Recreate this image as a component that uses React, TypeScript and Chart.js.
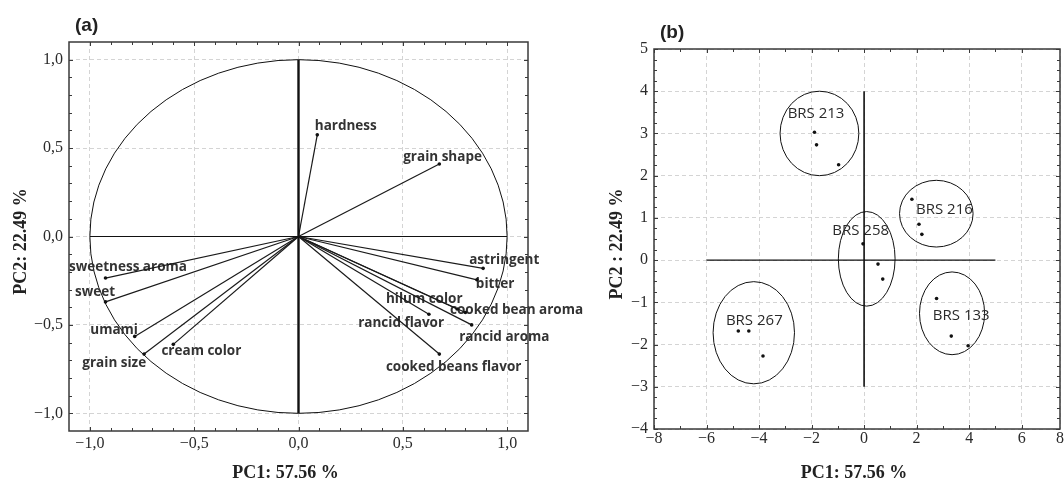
import { useEffect, useRef } from 'react';
import { Chart, registerables } from 'chart.js';

Chart.register(...registerables);

// ---------------- Panel (a): variable loadings ----------------
const variableNames = [
  'hardness', 'grain shape', 'astringent', 'bitter', 'hilum color', 'cooked bean aroma',
  'rancid flavor', 'rancid aroma', 'cooked beans flavor', 'sweetness aroma', 'sweet',
  'umami', 'grain size', 'cream color',
];
const loadingPC1 = [0.09, 0.675, 0.885, 0.855, 0.76, 0.8, 0.625, 0.83, 0.675, -0.925, -0.925, -0.785, -0.74, -0.6];
const loadingPC2 = [0.575, 0.41, -0.18, -0.245, -0.41, -0.43, -0.44, -0.5, -0.665, -0.235, -0.37, -0.565, -0.665, -0.61];
// where each variable's name is written (left edge, in PC units)
const variableLabelPC1 = [0.078, 0.502, 0.818, 0.85, 0.419, 0.726, 0.286, 0.77, 0.419, -1.1, -1.071, -0.998, -1.036, -0.657];
const variableLabelPC2 = [0.623, 0.449, -0.136, -0.272, -0.353, -0.419, -0.489, -0.567, -0.741, -0.174, -0.312, -0.527, -0.716, -0.646];

const loadingRange = [-1.1, 1.1];
const loadingTicks = [-1, -0.5, 0, 0.5, 1];
const loadingTickLabels = ['−1,0', '−0,5', '0,0', '0,5', '1,0'];
const loadingMinorTicks = [-0.9, -0.8, -0.7, -0.6, -0.4, -0.3, -0.2, -0.1, 0.1, 0.2, 0.3, 0.4, 0.6, 0.7, 0.8, 0.9];

// ---------------- Panel (b): sample scores ----------------
const cultivars = ['BRS 213', 'BRS 216', 'BRS 258', 'BRS 133', 'BRS 267'];
const scorePC1 = [-1.89, -1.81, -0.97, 1.82, 2.09, 2.2, -0.04, 0.53, 0.71, 2.76, 3.32, 3.96, -4.79, -4.39, -3.85];
const scorePC2 = [3.03, 2.73, 2.26, 1.44, 0.85, 0.61, 0.385, -0.095, -0.45, -0.91, -1.8, -2.03, -1.68, -1.68, -2.27];
const ellipseCenterPC1 = [-1.7, 2.75, 0.1, 3.35, -4.2];
const ellipseCenterPC2 = [3.0, 1.1, 0.03, -1.26, -1.72];
const ellipseRadiusPC1 = [1.5, 1.4, 1.08, 1.24, 1.55];
const ellipseRadiusPC2 = [1.0, 0.79, 1.12, 0.98, 1.21];
const cultivarLabelPC1 = [-1.83, 3.06, -0.13, 3.7, -4.18];
const cultivarLabelPC2 = [3.47, 1.2, 0.69, -1.32, -1.43];

const scoreRangeX = [-8, 7.46]; // the frame is cut at the right-hand side
const scoreRangeY = [-4, 5];
const scoreTicksX = [-8, -6, -4, -2, 0, 2, 4, 6, 8];
const scoreTickLabelsX = ['−8', '−6', '−4', '−2', '0', '2', '4', '6', '8'];
const scoreTicksY = [-4, -3, -2, -1, 0, 1, 2, 3, 4, 5];
const scoreTickLabelsY = ['−4', '−3', '−2', '−1', '0', '1', '2', '3', '4', '5'];
const scoreMinorX = [-7, -5, -3, -1, 1, 3, 5];
const scoreMinorY = [
  -3.75, -3.5, -3.25, -2.75, -2.5, -2.25, -1.75, -1.5, -1.25, -0.75, -0.5, -0.25,
  0.25, 0.5, 0.75, 1.25, 1.5, 1.75, 2.25, 2.5, 2.75, 3.25, 3.5, 3.75, 4.25, 4.5, 4.75,
];
const crossH = [[-6, 0], [5, 0]];
const crossV = [[0, 4], [0, -3]];

const TICK_FONT = { family: '"Liberation Serif", "Times New Roman", serif', size: 16 };
const GRID_COLOR = '#d4d4d4';
const AXIS_COLOR = '#3a3a3a';

function framePlugin(majorX: number[], majorY: number[], minorX: number[], minorY: number[]) {
  return {
    id: 'frame',
    afterDraw(chart: any) {
      const { ctx, chartArea: a, scales } = chart;
      const xs = scales.x;
      const ys = scales.y;
      ctx.save();
      ctx.strokeStyle = AXIS_COLOR;
      ctx.lineWidth = 1;
      ctx.beginPath();
      const xt = (vals: number[], len: number) => {
        vals.forEach((v) => {
          if (v < xs.min || v > xs.max) return;
          const px = Math.round(xs.getPixelForValue(v)) + 0.5;
          ctx.moveTo(px, a.top);
          ctx.lineTo(px, a.top + len);
          ctx.moveTo(px, a.bottom);
          ctx.lineTo(px, a.bottom - len);
        });
      };
      const yt = (vals: number[], len: number) => {
        vals.forEach((v) => {
          if (v < ys.min || v > ys.max) return;
          const py = Math.round(ys.getPixelForValue(v)) + 0.5;
          ctx.moveTo(a.left, py);
          ctx.lineTo(a.left + len, py);
          ctx.moveTo(a.right, py);
          ctx.lineTo(a.right - len, py);
        });
      };
      xt(majorX, 4);
      xt(minorX, 3);
      yt(majorY, 4);
      yt(minorY, 3);
      ctx.stroke();
      ctx.lineWidth = 1.5;
      ctx.strokeRect(a.left, a.top, a.right - a.left, a.bottom - a.top);
      ctx.restore();
    },
  };
}

function titlesPlugin(panel: string, xTitle: string, yTitle: string, xShift: number, yTitleX: number) {
  return {
    id: 'titles',
    afterDraw(chart: any) {
      const { ctx, chartArea: a, height } = chart;
      ctx.save();
      ctx.fillStyle = '#222';
      ctx.font = 'bold 19px "Liberation Sans", Arial, sans-serif';
      ctx.textAlign = 'left';
      ctx.textBaseline = 'middle';
      ctx.fillText(panel, a.left + 6, a.top - 16);
      ctx.font = 'bold 18px "Liberation Serif", "Times New Roman", serif';
      ctx.textAlign = 'center';
      ctx.fillText(xTitle, (a.left + a.right) / 2 + xShift, height - 10);
      ctx.translate(yTitleX, (a.top + a.bottom) / 2 + 5);
      ctx.rotate(-Math.PI / 2);
      ctx.fillText(yTitle, 0, 0);
      ctx.restore();
    },
  };
}

function scaleOptions(range: number[], ticks: number[], labels: string[], axis: 'x' | 'y', size: number, pad: number) {
  return {
    type: 'linear',
    min: range[0],
    max: range[1],
    afterBuildTicks: (s: any) => {
      s.ticks = ticks.map((v) => ({ value: Math.min(Math.max(v, s.min), s.max) }));
    },
    afterFit: (s: any) => {
      if (axis === 'x') {
        s.height = size;
        s.paddingLeft = 0;
        s.paddingRight = 0;
      } else {
        s.width = size;
        s.paddingTop = 0;
        s.paddingBottom = 0;
      }
    },
    ticks: {
      callback: (_v: any, i: number) => labels[i],
      font: TICK_FONT,
      color: '#2a2a2a',
      padding: pad,
      autoSkip: false,
      maxRotation: 0,
      minRotation: 0,
    },
    grid: { color: GRID_COLOR, lineWidth: 1, drawTicks: false },
    border: { display: false, dash: [4, 3] },
  };
}

function LoadingsChart() {
  const ref = useRef<HTMLCanvasElement>(null);
  useEffect(() => {
    if (!ref.current) return;
    const datasets: any[] = [
      {
        data: [{ x: loadingTicks[0], y: 0 }, { x: loadingTicks[4], y: 0 }],
        showLine: true, borderColor: '#111', borderWidth: 1.2, pointRadius: 0,
      },
      {
        data: [{ x: 0, y: loadingTicks[4] }, { x: 0, y: loadingTicks[0] }],
        showLine: true, borderColor: '#111', borderWidth: 2.4, pointRadius: 0,
      },
    ];
    variableNames.forEach((_, i) => {
      datasets.push({
        data: [{ x: 0, y: 0 }, { x: loadingPC1[i], y: loadingPC2[i] }],
        showLine: true,
        borderColor: '#1a1a1a',
        borderWidth: 1.2,
        pointRadius: [0, 1.8],
        pointBackgroundColor: '#111',
        pointBorderWidth: 0,
      });
    });
    const circle = {
      id: 'circle',
      beforeDatasetsDraw(chart: any) {
        const { ctx, scales: { x, y } } = chart;
        const cx = x.getPixelForValue(0);
        const cy = y.getPixelForValue(0);
        ctx.save();
        ctx.strokeStyle = '#111';
        ctx.lineWidth = 1;
        ctx.beginPath();
        ctx.ellipse(cx, cy, x.getPixelForValue(1) - cx, cy - y.getPixelForValue(1), 0, 0, Math.PI * 2);
        ctx.stroke();
        ctx.fillStyle = '#333';
        ctx.font = 'bold 13.5px "Open Sans", "Noto Sans", sans-serif';
        ctx.textAlign = 'left';
        ctx.textBaseline = 'middle';
        variableNames.forEach((n, i) => {
          ctx.fillText(n, x.getPixelForValue(variableLabelPC1[i]), y.getPixelForValue(variableLabelPC2[i]));
        });
        ctx.restore();
      },
    };
    const chart = new Chart(ref.current, {
      type: 'scatter',
      data: { datasets },
      options: {
        responsive: false,
        animation: false,
        events: [],
        layout: { padding: { top: 42, right: 62, left: 0, bottom: 0 } },
        plugins: { legend: { display: false }, tooltip: { enabled: false } },
        scales: {
          x: scaleOptions(loadingRange, loadingTicks, loadingTickLabels, 'x', 52, 3),
          y: scaleOptions(loadingRange, loadingTicks, loadingTickLabels, 'y', 69, 6),
        },
      } as any,
      plugins: [
        circle,
        framePlugin(loadingTicks, loadingTicks, loadingMinorTicks, loadingMinorTicks),
        titlesPlugin('(a)', 'PC1: 57.56 %', 'PC2: 22.49 %', -13, 21),
      ],
    });
    return () => chart.destroy();
  }, []);
  return (
    <canvas ref={ref} width={590} height={483}
      style={{ position: 'absolute', left: 0, top: 0, width: 590, height: 483 }} />
  );
}

function ScoresChart() {
  const ref = useRef<HTMLCanvasElement>(null);
  useEffect(() => {
    if (!ref.current) return;
    const datasets: any[] = [
      {
        data: crossH.map(([x, y]) => ({ x, y })),
        showLine: true, borderColor: '#111', borderWidth: 1.4, pointRadius: 0,
      },
      {
        data: crossV.map(([x, y]) => ({ x, y })),
        showLine: true, borderColor: '#111', borderWidth: 1.6, pointRadius: 0,
      },
      {
        data: scorePC1.map((x, i) => ({ x, y: scorePC2[i] })),
        pointRadius: 1.8,
        pointBackgroundColor: '#111',
        pointBorderWidth: 0,
      },
    ];
    const ellipses = {
      id: 'ellipses',
      beforeDatasetsDraw(chart: any) {
        const { ctx, scales: { x, y } } = chart;
        ctx.save();
        ctx.strokeStyle = '#111';
        ctx.lineWidth = 1;
        cultivars.forEach((_, i) => {
          const cx = x.getPixelForValue(ellipseCenterPC1[i]);
          const cy = y.getPixelForValue(ellipseCenterPC2[i]);
          const rx = Math.abs(x.getPixelForValue(ellipseCenterPC1[i] + ellipseRadiusPC1[i]) - cx);
          const ry = Math.abs(y.getPixelForValue(ellipseCenterPC2[i] + ellipseRadiusPC2[i]) - cy);
          ctx.beginPath();
          ctx.ellipse(cx, cy, rx, ry, 0, 0, Math.PI * 2);
          ctx.stroke();
        });
        ctx.fillStyle = '#2a2a2a';
        ctx.font = '15px "Open Sans", "Noto Sans", sans-serif';
        ctx.textAlign = 'center';
        ctx.textBaseline = 'middle';
        cultivars.forEach((n, i) => {
          ctx.fillText(n, x.getPixelForValue(cultivarLabelPC1[i]), y.getPixelForValue(cultivarLabelPC2[i]));
        });
        ctx.restore();
      },
    };
    const chart = new Chart(ref.current, {
      type: 'scatter',
      data: { datasets },
      options: {
        responsive: false,
        animation: false,
        events: [],
        layout: { padding: { top: 49, right: 1, left: 0, bottom: 0 } },
        plugins: { legend: { display: false }, tooltip: { enabled: false } },
        scales: {
          x: scaleOptions(scoreRangeX, scoreTicksX, scoreTickLabelsX, 'x', 54, 0),
          y: scaleOptions(scoreRangeY, scoreTicksY, scoreTickLabelsY, 'y', 64, 6),
        },
      } as any,
      plugins: [
        ellipses,
        framePlugin(scoreTicksX, scoreTicksY, scoreMinorX, scoreMinorY),
        titlesPlugin('(b)', 'PC1: 57.56 %', 'PC2 : 22.49 %', -3, 27),
      ],
    });
    return () => chart.destroy();
  }, []);
  return (
    <canvas ref={ref} width={474} height={483}
      style={{ position: 'absolute', left: 590, top: 0, width: 474, height: 483 }} />
  );
}

export default function App() {
  return (
    <div style={{ position: 'fixed', left: 0, top: 0, width: 1064, height: 483, overflow: 'hidden', background: '#fff' }}>
      <LoadingsChart />
      <ScoresChart />
    </div>
  );
}
